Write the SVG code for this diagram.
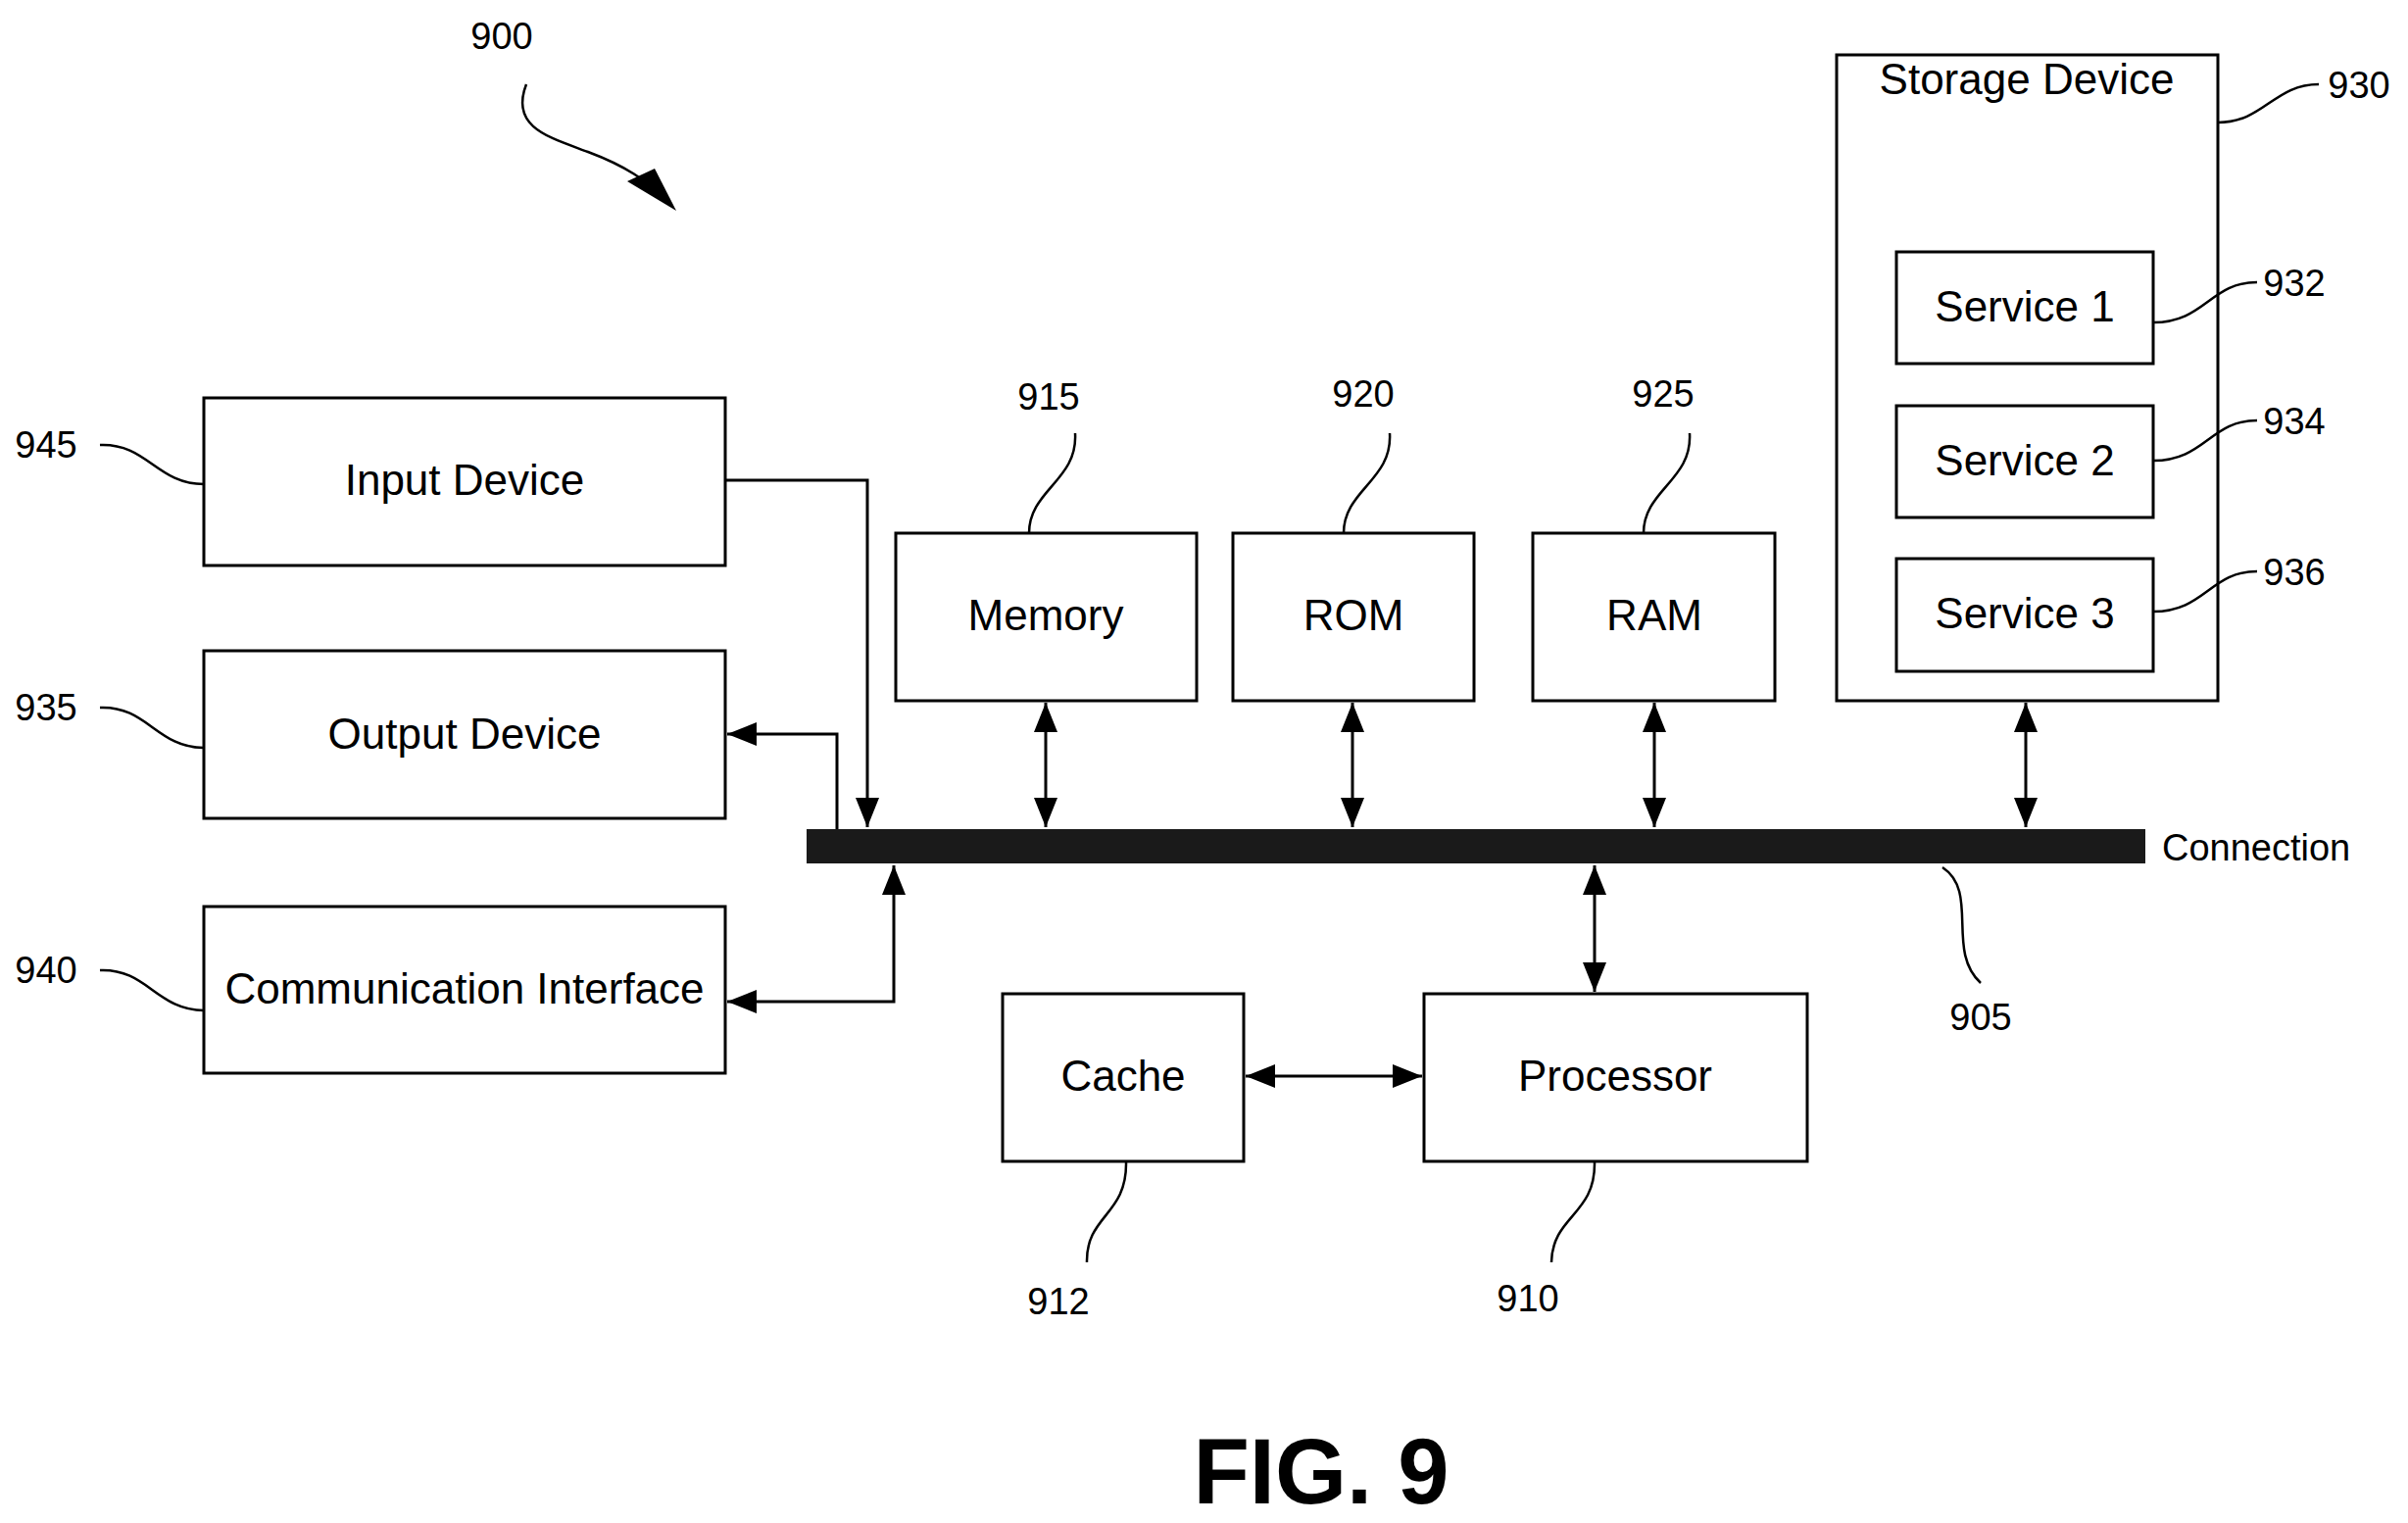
<svg xmlns="http://www.w3.org/2000/svg" width="2457" height="1554" viewBox="0 0 2457 1554">
<style>
.b{fill:#fff;stroke:#000;stroke-width:3}
.t{font-family:"Liberation Sans",Arial,sans-serif;font-size:44px;text-anchor:middle;fill:#000}
.n{font-family:"Liberation Sans",Arial,sans-serif;font-size:38px;text-anchor:middle;fill:#000}
.c{fill:none;stroke:#000;stroke-width:3}
.l{fill:none;stroke:#000;stroke-width:2.5}
</style>
<defs>
<marker id="a" markerWidth="10" markerHeight="8" refX="10" refY="4" orient="auto-start-reverse" markerUnits="strokeWidth"><path d="M0,0L10,4L0,8z" fill="#000"/></marker>
</defs>
<rect x="0" y="0" width="2457" height="1554" fill="#fff"/>
<g id="n945"><rect class="b" x="208" y="406" width="532" height="171"/><text class="t" x="474" y="505">Input Device</text></g>
<g id="n935"><rect class="b" x="208" y="664" width="532" height="171"/><text class="t" x="474" y="764">Output Device</text></g>
<g id="n940"><rect class="b" x="208" y="925" width="532" height="170"/><text class="t" x="474" y="1024">Communication Interface</text></g>
<g id="n915"><rect class="b" x="914" y="544" width="307" height="171"/><text class="t" x="1067" y="643">Memory</text></g>
<g id="n920"><rect class="b" x="1258" y="544" width="246" height="171"/><text class="t" x="1381" y="643">ROM</text></g>
<g id="n925"><rect class="b" x="1564" y="544" width="247" height="171"/><text class="t" x="1688" y="643">RAM</text></g>
<g id="n930"><rect class="b" x="1874" y="56" width="389" height="659"/><text class="t" x="2068" y="96">Storage Device</text></g>
<g id="n932"><rect class="b" x="1935" y="257" width="262" height="114"/><text class="t" x="2066" y="328">Service 1</text></g>
<g id="n934"><rect class="b" x="1935" y="414" width="262" height="114"/><text class="t" x="2066" y="485">Service 2</text></g>
<g id="n936"><rect class="b" x="1935" y="570" width="262" height="115"/><text class="t" x="2066" y="641">Service 3</text></g>
<g id="n905"><rect x="823" y="846" width="1366" height="35" fill="#1a1a1a"/><text class="n" x="2206" y="878" style="text-anchor:start">Connection</text></g>
<g id="n912"><rect class="b" x="1023" y="1014" width="246" height="171"/><text class="t" x="1146" y="1113">Cache</text></g>
<g id="n910"><rect class="b" x="1453" y="1014" width="391" height="171"/><text class="t" x="1648" y="1113">Processor</text></g>
<g id="connectors">
<path class="c" d="M740,490H885V844" marker-end="url(#a)"/>
<path class="c" d="M854,846V749H742" marker-end="url(#a)"/>
<path class="c" d="M742,1022H912V883" marker-start="url(#a)" marker-end="url(#a)"/>
<path class="c" d="M1067,717V844" marker-start="url(#a)" marker-end="url(#a)"/>
<path class="c" d="M1380,717V844" marker-start="url(#a)" marker-end="url(#a)"/>
<path class="c" d="M1688,717V844" marker-start="url(#a)" marker-end="url(#a)"/>
<path class="c" d="M2067,717V844" marker-start="url(#a)" marker-end="url(#a)"/>
<path class="c" d="M1627,883V1012" marker-start="url(#a)" marker-end="url(#a)"/>
<path class="c" d="M1271,1098H1451" marker-start="url(#a)" marker-end="url(#a)"/>
</g>
<g id="leaders">
<path class="l" d="M537,86C520,130 560,140 600,155C640,170 660,185 675,200"/>
<path d="M640,185L690,215L668,172z" fill="#000"/>
<path class="l" d="M102,454C150,452 160,494 208,494"/>
<path class="l" d="M102,722C150,720 160,763 208,763"/>
<path class="l" d="M102,990C150,988 160,1031 208,1031"/>
<path class="l" d="M1097,442C1100,490 1050,500 1050,544"/>
<path class="l" d="M1418,442C1421,490 1371,500 1371,544"/>
<path class="l" d="M1724,442C1727,490 1677,500 1677,544"/>
<path class="l" d="M2263,125C2310,125 2320,86 2366,86"/>
<path class="l" d="M2197,329C2250,329 2255,288 2303,288"/>
<path class="l" d="M2197,470C2250,470 2255,429 2303,429"/>
<path class="l" d="M2197,624C2250,624 2255,583 2303,583"/>
<path class="l" d="M1982,885C2020,910 1985,970 2021,1003"/>
<path class="l" d="M1149,1186C1150,1240 1108,1240 1109,1288"/>
<path class="l" d="M1627,1186C1628,1240 1584,1240 1583,1288"/>
</g>
<g id="labels">
<text class="n" x="512" y="50">900</text>
<text class="n" x="47" y="467">945</text>
<text class="n" x="47" y="735">935</text>
<text class="n" x="47" y="1003">940</text>
<text class="n" x="1070" y="418">915</text>
<text class="n" x="1391" y="415">920</text>
<text class="n" x="1697" y="415">925</text>
<text class="n" x="2407" y="100">930</text>
<text class="n" x="2341" y="302">932</text>
<text class="n" x="2341" y="443">934</text>
<text class="n" x="2341" y="597">936</text>
<text class="n" x="2021" y="1051">905</text>
<text class="n" x="1080" y="1341">912</text>
<text class="n" x="1559" y="1338">910</text>
<text x="1348" y="1534" style="font-family:'Liberation Sans',Arial,sans-serif;font-size:94px;font-weight:bold;text-anchor:middle">FIG. 9</text>
</g>
</svg>
